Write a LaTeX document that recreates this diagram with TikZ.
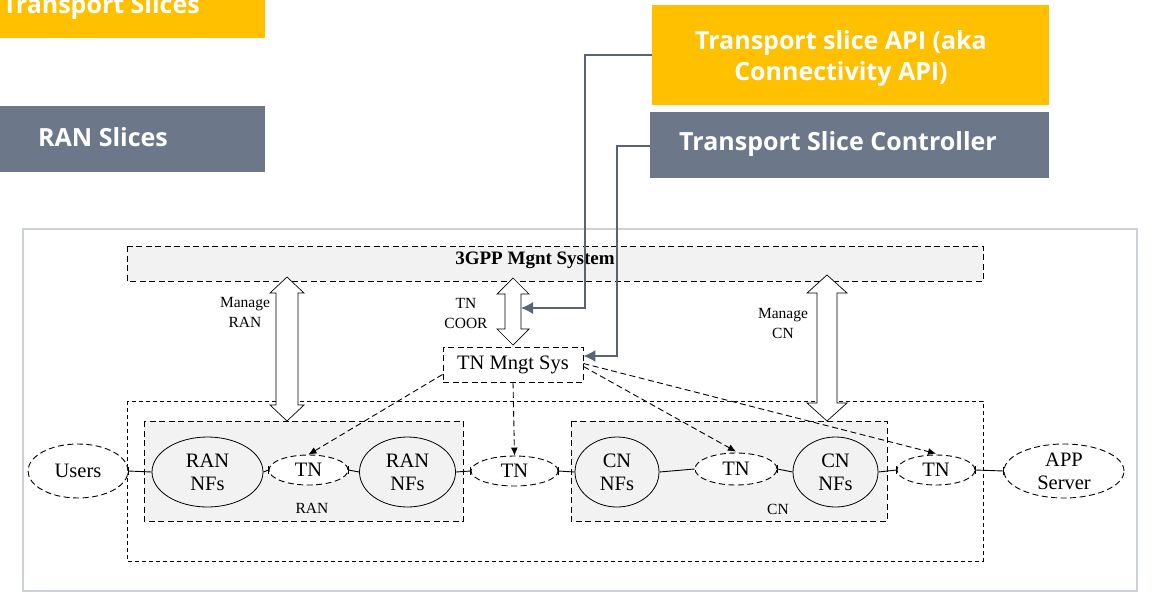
\documentclass[tikz,border=0pt]{standalone}
\usepackage{fontspec}
\setmainfont{Liberation Serif}
\newfontfamily\boxfont{Open Sans}
\usetikzlibrary{shapes.geometric,arrows.meta,calc}
\definecolor{tsyellow}{HTML}{FFC000}
\definecolor{tsslate}{HTML}{6C7889}
\definecolor{linkgray}{HTML}{586374}
\definecolor{framegray}{HTML}{CDD2D9}
\definecolor{panel}{HTML}{F2F2F2}
\newcommand{\dblarrow}[6]{%
  \draw[fill=white,line width=0.7pt] (#1,#2) -- (#1+#5,#2+#6) -- (#1+#4,#2+#6) -- (#1+#4,#3-#6) -- (#1+#5,#3-#6) -- (#1,#3) -- (#1-#5,#3-#6) -- (#1-#4,#3-#6) -- (#1-#4,#2+#6) -- (#1-#5,#2+#6) -- cycle;}
\newcommand{\tickat}[1]{\draw[line width=0.9pt] ([yshift=-4pt]#1) -- ([yshift=4pt]#1);}
\tikzset{
  banner/.style={inner sep=0pt, text=white, font=\boxfont\bfseries\fontsize{25}{31}\selectfont},
  dbox/.style={draw, dash pattern=on 6pt off 3.5pt, line width=0.9pt},
  bigdbox/.style={draw, dash pattern=on 4pt off 3pt, line width=0.8pt},
  solidell/.style={ellipse, draw, line width=0.8pt, fill=panel, inner sep=0pt, align=center, font=\fontsize{20.5}{23}\selectfont},
  dashell/.style={ellipse, dbox, fill=white, inner sep=0pt, align=center, font=\fontsize{20.5}{23}\selectfont},
  link/.style={line width=0.9pt},
  ctrl/.style={draw=linkgray, line width=1.3pt, -{Latex[length=12pt,width=12pt]}},
  mgmt/.style={dash pattern=on 6pt off 3.5pt, line width=0.9pt, -{Latex[length=8pt,width=7pt]}},
  lbl/.style={font=\fontsize{15.5}{20}\selectfont, align=center, inner sep=0pt},
}
\begin{document}
\begin{tikzpicture}[x=1pt,y=-1pt]
\useasboundingbox (0,0) rectangle (1153,592);
\clip (0,0) rectangle (1153,592);
% top banners
\fill[tsyellow] (0,-20) rectangle (265,38);
\node[banner, anchor=base east] (tslices) at (200,13) {Transport Slices};
\fill[tsslate] (0,106) rectangle (265,172);
\node[banner, anchor=west] (ranslices) at (38,137) {RAN Slices};
\fill[tsyellow] (652,5) rectangle (1049,105);
\node[banner, align=center] (api) at (841,59) {Transport slice API (aka\\Connectivity API)};
\fill[tsslate] (650,112) rectangle (1049,178);
\node[banner] (tsc) at (838,144) {Transport Slice Controller};
\coordinate (apiL) at (652,55);
\coordinate (tscL) at (650,146);
% outer frame
\draw[framegray, line width=2pt] (23,229) rectangle (1137,591);
% big dashed region
\draw[bigdbox] (127,401) rectangle (983,561);
\draw[dbox, fill=panel] (144,421) rectangle (463,521);
\draw[dbox, fill=panel] (571,421) rectangle (887,521);
\node[lbl] (ranlbl) at (312,508) {RAN};
\node[lbl] (cnlbl) at (778,509) {CN};
% 3GPP box
\draw[dbox, fill=panel] (127,246) rectangle (983,281);
\node[font=\bfseries\fontsize{19}{22}\selectfont] (gpp) at (535,260) {3GPP Mgnt System};
% hollow double arrows
\dblarrow{287}{277}{421}{11}{17}{16}
\dblarrow{513}{278}{345}{8}{16}{16}
\dblarrow{827}{275}{421}{10}{20}{18}
\node[lbl] (mran) at (245,312) {Manage\\RAN};
\node[lbl] (tncoor) at (466,313) {TN\\COOR};
\node[lbl] (mcn) at (783,323) {Manage\\CN};
% TN management system
\node[dbox, fill=white, minimum width=140pt, minimum height=35pt, inner sep=0pt, font=\fontsize{20.5}{23}\selectfont] (mngt) at (513,364.5) {TN Mngt Sys};
% ellipses
\node[dashell, minimum width=100pt, minimum height=54pt] (users) at (78,471) {Users};
\node[solidell, minimum width=111pt, minimum height=70pt] (ran1) at (207.5,472) {RAN\\NFs};
\node[dashell, minimum width=79pt, minimum height=30pt] (tn1) at (308.5,470) {TN};
\node[solidell, minimum width=96pt, minimum height=70pt] (ran2) at (407.5,472) {RAN\\NFs};
\node[dashell, minimum width=87pt, minimum height=30pt] (tn2) at (514.5,471) {TN};
\node[solidell, minimum width=84pt, minimum height=70pt] (cn1) at (617,472) {CN\\NFs};
\node[dashell, minimum width=82pt, minimum height=32pt] (tn3) at (736,469) {TN};
\node[solidell, minimum width=85pt, minimum height=70pt] (cn2) at (835.5,472) {CN\\NFs};
\node[dashell, minimum width=78pt, minimum height=30pt] (tn4) at (936,470) {TN};
\node[dashell, minimum width=120pt, minimum height=54pt] (app) at (1064,471) {APP\\Server};
% links
\draw[link] (users.east) -- (ran1.west);
\draw[link] (tn1.west) -- (ran1.east);
\draw[link] (tn1.east) -- (ran2.west);
\draw[link] (tn2.west) -- (ran2.east);
\draw[link] (tn2.east) -- (cn1.west);
\draw[link] (cn1.east) -- (tn3.west);
\draw[link] (tn3.east) -- (cn2.west);
\draw[link] (tn4.west) -- (cn2.east);
\draw[link] (tn4.east) -- (app.west);
\tickat{users.east}
\tickat{tn1.west}
\tickat{tn1.east}
\tickat{tn2.west}
\tickat{tn2.east}
\tickat{tn3.east}
\tickat{tn4.west}
\tickat{tn4.east}
\tickat{app.west}
% management arrows
\draw[mgmt] ([yshift=8pt]mngt.south west) -- (tn1.north);
\draw[mgmt] (mngt.south) -- (tn2.north);
\draw[mgmt] ([yshift=-2pt]mngt.east) -- ([yshift=1pt]tn3.north);
\draw[mgmt] ([yshift=1pt]mngt.east) -- ([yshift=1pt]tn4.north);
% controller links
\draw[ctrl] (apiL) -- (585,55) -- (585,308) -- (521,308);
\draw[ctrl] (tscL) -- (617,146) -- (617,356) -- (mngt.east |- 0,356);
\end{tikzpicture}
\end{document}
